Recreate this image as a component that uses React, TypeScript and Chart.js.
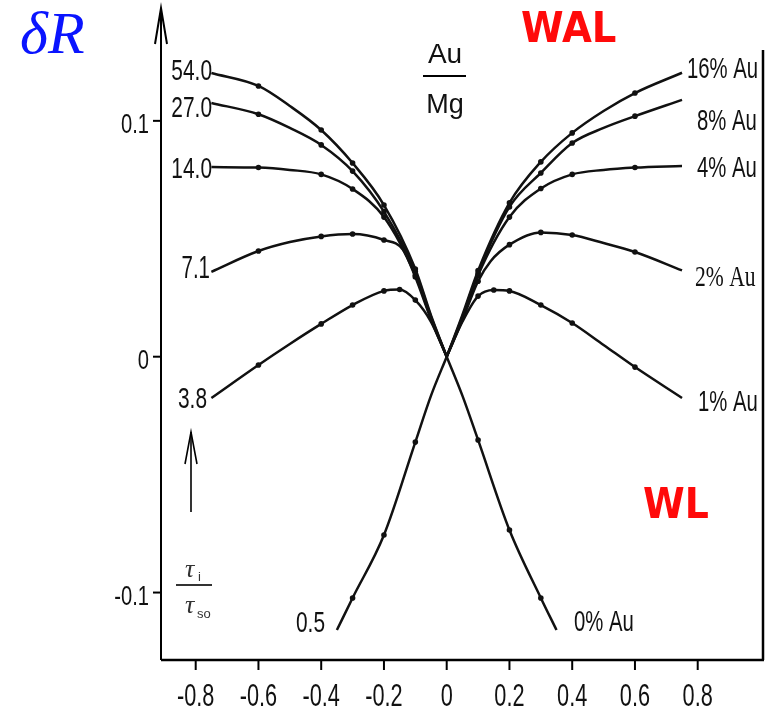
import React, { useEffect, useRef } from "react";
import { Chart, registerables } from "chart.js";
Chart.register(...registerables);

// ---- axis ticks ----
const xTicks = [-0.8, -0.6, -0.4, -0.2, 0, 0.2, 0.4, 0.6, 0.8];
const xTickLabels = ["-0.8", "-0.6", "-0.4", "-0.2", "0", "0.2", "0.4", "0.6", "0.8"];
const yTicks = [-0.1, 0, 0.1];
const yTickLabels = ["-0.1", "0", "0.1"];

// ---- x positions of the read points ----
const xLeft = [-0.75, -0.6, -0.5, -0.4, -0.3, -0.2, -0.1, -0.05, 0];
const xRight = [0, 0.05, 0.1, 0.2, 0.3, 0.4, 0.5, 0.6, 0.75];
const xLeft71 = [-0.75, -0.6, -0.5, -0.4, -0.3, -0.2, -0.14, -0.1, -0.05, 0];
const xRight2 = [0, 0.05, 0.1, 0.14, 0.2, 0.3, 0.4, 0.5, 0.6, 0.75];
const xLeftPeak = [-0.75, -0.6, -0.5, -0.4, -0.3, -0.2, -0.15, -0.1, -0.05, 0];
const xRightPeak = [0, 0.05, 0.1, 0.15, 0.2, 0.3, 0.4, 0.5, 0.6, 0.75];
const xLeftWL = [-0.35, -0.3, -0.2, -0.1, -0.05, 0];
const xRightWL = [0, 0.05, 0.1, 0.2, 0.3, 0.35];
// |x| where measured points (dots) are shown
const markerX = [0.6, 0.4, 0.3, 0.2, 0.15, 0.1];

// ---- left half: tau_i / tau_so ----
const tau54 = [0.1203, 0.1148, 0.1063, 0.0961, 0.0821, 0.0643, 0.0372, 0.0175, 0];
const tau27 = [0.1076, 0.1028, 0.097, 0.0898, 0.0787, 0.0615, 0.036, 0.017, 0];
const tau14 = [0.0804, 0.0802, 0.0792, 0.0773, 0.0711, 0.0592, 0.0345, 0.0163, 0];
const tau7_1 = [0.036, 0.0448, 0.0486, 0.051, 0.052, 0.0495, 0.0455, 0.0338, 0.0158, 0];
const tau3_8 = [-0.0175, -0.0035, 0.0054, 0.0139, 0.0219, 0.0279, 0.0285, 0.024, 0.0148, 0];
const tau0_5 = [-0.1159, -0.1023, -0.0756, -0.0362, -0.0165, 0];

// ---- right half: Au concentration ----
const au16 = [0, 0.0177, 0.0365, 0.0652, 0.0826, 0.0949, 0.1042, 0.1118, 0.1204];
const au8 = [0, 0.017, 0.0355, 0.0635, 0.0779, 0.0906, 0.097, 0.102, 0.1089];
const au4 = [0, 0.0164, 0.0345, 0.0592, 0.0713, 0.0773, 0.0792, 0.0802, 0.0809];
const au2 = [0, 0.0155, 0.032, 0.0405, 0.0475, 0.0527, 0.0516, 0.0482, 0.0444, 0.0366];
const au1 = [0, 0.0148, 0.0257, 0.0283, 0.0279, 0.0219, 0.0143, 0.005, -0.0044, -0.0175];
const au0 = [0, -0.0165, -0.0353, -0.0735, -0.1023, -0.1159];

const leftLabels = ["54.0", "27.0", "14.0", "7.1", "3.8", "0.5"];
const rightLabels = ["16% Au", "8% Au", "4% Au", "2% Au", "1% Au", "0% Au"];

function mk(xs: number[], ys: number[], label: string) {
  return {
    label,
    data: xs.map((x, i) => ({ x, y: ys[i] })),
    borderColor: "#111",
    borderWidth: 2.5,
    pointRadius: (c: any) => (c.raw && markerX.includes(Math.abs(c.raw.x)) ? 2.8 : 0),
    pointBackgroundColor: "#111",
    pointBorderWidth: 0,
    cubicInterpolationMode: "monotone",
    fill: false,
    clip: false,
  };
}

function txt(
  ctx: CanvasRenderingContext2D,
  s: string,
  x: number,
  y: number,
  font: string,
  color: string,
  align: CanvasTextAlign,
  sx = 1
) {
  ctx.save();
  ctx.font = font;
  ctx.fillStyle = color;
  ctx.textAlign = align;
  ctx.textBaseline = "alphabetic";
  ctx.translate(x, y);
  ctx.scale(sx, 1);
  ctx.fillText(s, 0, 0);
  ctx.restore();
}

const deco = {
  id: "deco",
  afterDraw(chart: any) {
    const ctx: CanvasRenderingContext2D = chart.ctx;
    const xs = chart.scales.x;
    const ys = chart.scales.y;
    const a = chart.chartArea;
    const SANS = "Liberation Sans, Arial, sans-serif";
    const SERIF = "Liberation Serif, Times New Roman, serif";
    ctx.save();
    ctx.strokeStyle = "#000";
    ctx.lineCap = "butt";

    // bottom axis
    ctx.lineWidth = 2.5;
    ctx.beginPath();
    ctx.moveTo(a.left, a.bottom);
    ctx.lineTo(a.right + 1, a.bottom);
    ctx.stroke();
    // right frame
    ctx.beginPath();
    ctx.moveTo(a.right, a.bottom);
    ctx.lineTo(a.right, 50);
    ctx.stroke();
    // y axis with arrow
    ctx.lineWidth = 2;
    ctx.beginPath();
    ctx.moveTo(a.left, a.bottom);
    ctx.lineTo(a.left, a.top - 2);
    ctx.stroke();
    ctx.beginPath();
    ctx.moveTo(a.left - 6, a.top + 34);
    ctx.lineTo(a.left, a.top - 2);
    ctx.lineTo(a.left + 6, a.top + 34);
    ctx.stroke();

    // x ticks
    ctx.lineWidth = 2;
    xTicks.forEach((v, i) => {
      const px = xs.getPixelForValue(v);
      ctx.beginPath();
      ctx.moveTo(px, a.bottom);
      ctx.lineTo(px, a.bottom + 10);
      ctx.stroke();
      txt(ctx, xTickLabels[i], px, a.bottom + 46, "31px " + SANS, "#111", "center", 0.7);
    });
    // y ticks
    yTicks.forEach((v, i) => {
      const py = ys.getPixelForValue(v);
      ctx.beginPath();
      ctx.moveTo(a.left - 8, py);
      ctx.lineTo(a.left, py);
      ctx.stroke();
      txt(ctx, yTickLabels[i], a.left - 12, py + 12, "28px " + SANS, "#111", "right", 0.72);
    });

    // curve labels, left
    const lf = "29px " + SANS;
    txt(ctx, leftLabels[0], 212, 80, lf, "#111", "right", 0.72);
    txt(ctx, leftLabels[1], 212, 117, lf, "#111", "right", 0.72);
    txt(ctx, leftLabels[2], 212, 178, lf, "#111", "right", 0.72);
    txt(ctx, leftLabels[3], 210, 278, "31px " + SANS, "#111", "right", 0.66);
    txt(ctx, leftLabels[4], 207, 408, lf, "#111", "right", 0.72);
    txt(ctx, leftLabels[5], 325, 632, lf, "#111", "right", 0.72);
    // curve labels, right
    txt(ctx, rightLabels[0], 687, 78, lf, "#111", "left", 0.7);
    txt(ctx, rightLabels[1], 697, 130, lf, "#111", "left", 0.7);
    txt(ctx, rightLabels[2], 697, 177, lf, "#111", "left", 0.7);
    txt(ctx, rightLabels[3], 695, 286, "30px " + SERIF, "#111", "left", 0.72);
    txt(ctx, rightLabels[4], 698, 411, lf, "#111", "left", 0.7);
    txt(ctx, rightLabels[5], 574, 631, lf, "#111", "left", 0.7);

    // Au / Mg
    txt(ctx, "Au", 445, 63, "28px " + SANS, "#111", "center", 1);
    ctx.lineWidth = 2;
    ctx.beginPath();
    ctx.moveTo(423, 76);
    ctx.lineTo(466, 76);
    ctx.stroke();
    txt(ctx, "Mg", 445, 113, "27px " + SANS, "#111", "center", 1);

    // deltaR
    txt(ctx, "\u03B4R", 20, 53, "italic 60px " + SERIF, "#0a14ff", "left", 1);
    // WAL / WL
    txt(ctx, "WAL", 521, 42, "bold 42px DejaVu Sans, sans-serif", "#ff0a0a", "left", 0.92);
    txt(ctx, "WL", 643, 518, "bold 42px DejaVu Sans, sans-serif", "#ff0a0a", "left", 0.9);

    // small arrow
    ctx.lineWidth = 1.6;
    ctx.beginPath();
    ctx.moveTo(191, 512);
    ctx.lineTo(191, 432);
    ctx.stroke();
    ctx.beginPath();
    ctx.moveTo(185, 464);
    ctx.lineTo(191, 432);
    ctx.lineTo(197, 464);
    ctx.stroke();

    // tau_i / tau_so
    const g = "#333";
    txt(ctx, "\u03C4", 185, 577, "italic 26px " + SERIF, g, "left", 1);
    txt(ctx, "i", 198, 581, "13px " + SANS, g, "left", 1);
    ctx.strokeStyle = g;
    ctx.lineWidth = 2;
    ctx.beginPath();
    ctx.moveTo(176, 585);
    ctx.lineTo(212, 585);
    ctx.stroke();
    txt(ctx, "\u03C4", 185, 613, "italic 26px " + SERIF, g, "left", 1);
    txt(ctx, "so", 197, 618, "13px " + SANS, g, "left", 1);

    ctx.restore();
  },
};

export default function App() {
  const ref = useRef<HTMLCanvasElement | null>(null);
  useEffect(() => {
    if (!ref.current) return;
    const chart = new Chart(ref.current, {
      type: "line",
      data: {
        datasets: [
          mk(xLeft, tau54, leftLabels[0]),
          mk(xLeft, tau27, leftLabels[1]),
          mk(xLeft, tau14, leftLabels[2]),
          mk(xLeft71, tau7_1, leftLabels[3]),
          mk(xLeftPeak, tau3_8, leftLabels[4]),
          mk(xLeftWL, tau0_5, leftLabels[5]),
          mk(xRight, au16, rightLabels[0]),
          mk(xRight, au8, rightLabels[1]),
          mk(xRight, au4, rightLabels[2]),
          mk(xRight2, au2, rightLabels[3]),
          mk(xRightPeak, au1, rightLabels[4]),
          mk(xRightWL, au0, rightLabels[5]),
        ] as any,
      },
      options: {
        animation: false,
        responsive: false,
        devicePixelRatio: 1,
        events: [],
        layout: { padding: { left: 161, right: 12, top: 10, bottom: 54 } },
        scales: {
          x: { type: "linear", min: -0.9106, max: 1.0081, display: false },
          y: { type: "linear", min: -0.1286, max: 0.147, display: false },
        },
        plugins: { legend: { display: false }, tooltip: { enabled: false } },
      },
      plugins: [deco],
    });
    return () => chart.destroy();
  }, []);
  return (
    <div style={{ position: "absolute", left: 0, top: 0, width: 775, height: 714, background: "#fff" }}>
      <canvas ref={ref} width={775} height={714} />
    </div>
  );
}
